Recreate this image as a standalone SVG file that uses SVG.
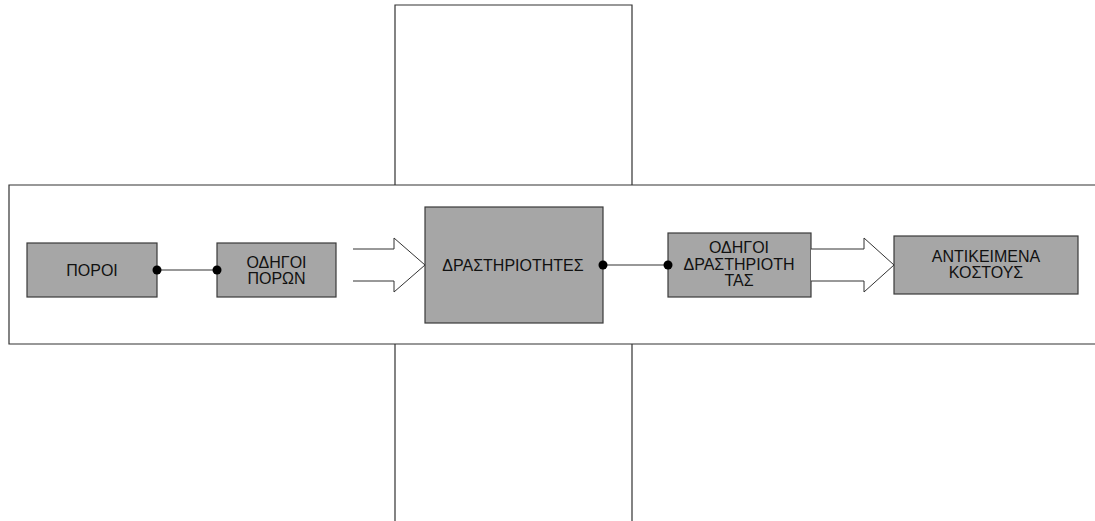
<svg xmlns="http://www.w3.org/2000/svg" width="1095" height="521" viewBox="0 0 1095 521">
  <style>
    .frame { fill: #ffffff; stroke: #333333; stroke-width: 1.2; }
    .box { fill: #a6a6a6; stroke: #3a3a3a; stroke-width: 1.2; }
    .lbl { font-family: "Liberation Sans", Arial, sans-serif; font-size: 16px; fill: #111111; text-anchor: middle; dominant-baseline: central; }
    .link { stroke: #333333; stroke-width: 1.2; fill: none; }
    .dot { fill: #000000; }
    .flow { fill: #ffffff; stroke: #333333; stroke-width: 1; stroke-linejoin: miter; }
  </style>

  <!-- vertical strip behind the band -->
  <g id="vertical-strip">
    <path class="frame" d="M395,521 L395,5 L632,5 L632,521"/>
  </g>

  <!-- horizontal band (open on the right) -->
  <g id="horizontal-band">
    <path class="frame" d="M1100,185 L9,185 L9,344 L1100,344"/>
  </g>

  <g id="poroi">
    <rect class="box" x="27" y="243" width="130" height="54"/>
    <text class="lbl" x="92" y="270">ΠΟΡΟΙ</text>
  </g>

  <g id="odigoi-poron">
    <rect class="box" x="217" y="243" width="119" height="54"/>
    <text class="lbl" x="276.5" y="262">ΟΔΗΓΟΙ</text>
    <text class="lbl" x="276.5" y="278.5">ΠΟΡΩΝ</text>
  </g>

  <g id="drastiriotites">
    <rect class="box" x="425" y="207" width="178" height="116"/>
    <text class="lbl" x="513" y="265">ΔΡΑΣΤΗΡΙΟΤΗΤΕΣ</text>
  </g>

  <g id="odigoi-drastiriotitas">
    <rect class="box" x="668" y="233" width="143" height="64"/>
    <text class="lbl" x="739" y="247.5">ΟΔΗΓΟΙ</text>
    <text class="lbl" x="739" y="264">ΔΡΑΣΤΗΡΙΟΤΗ</text>
    <text class="lbl" x="739" y="280.5">ΤΑΣ</text>
  </g>

  <g id="antikeimena-kostous">
    <rect class="box" x="894" y="236" width="184" height="58"/>
    <text class="lbl" x="986" y="256">ΑΝΤΙΚΕΙΜΕΝΑ</text>
    <text class="lbl" x="986" y="272.5">ΚΟΣΤΟΥΣ</text>
  </g>

  <g id="connectors">
    <!-- dot-ended links -->
    <line class="link" x1="157" y1="270" x2="217" y2="270"/>
    <circle class="dot" cx="157" cy="270" r="4.5"/>
    <circle class="dot" cx="217" cy="270" r="4.5"/>

    <line class="link" x1="603" y1="265" x2="668" y2="265"/>
    <circle class="dot" cx="603" cy="265" r="4.5"/>
    <circle class="dot" cx="668" cy="265" r="4.5"/>

    <!-- open block arrows -->
    <polyline class="flow" points="353,249 394,249 394,238 425,265 394,292 394,281 353,281"/>
    <polyline class="flow" points="811,249 864,249 864,238 894,265 864,292 864,281 811,281"/>
  </g>
</svg>
